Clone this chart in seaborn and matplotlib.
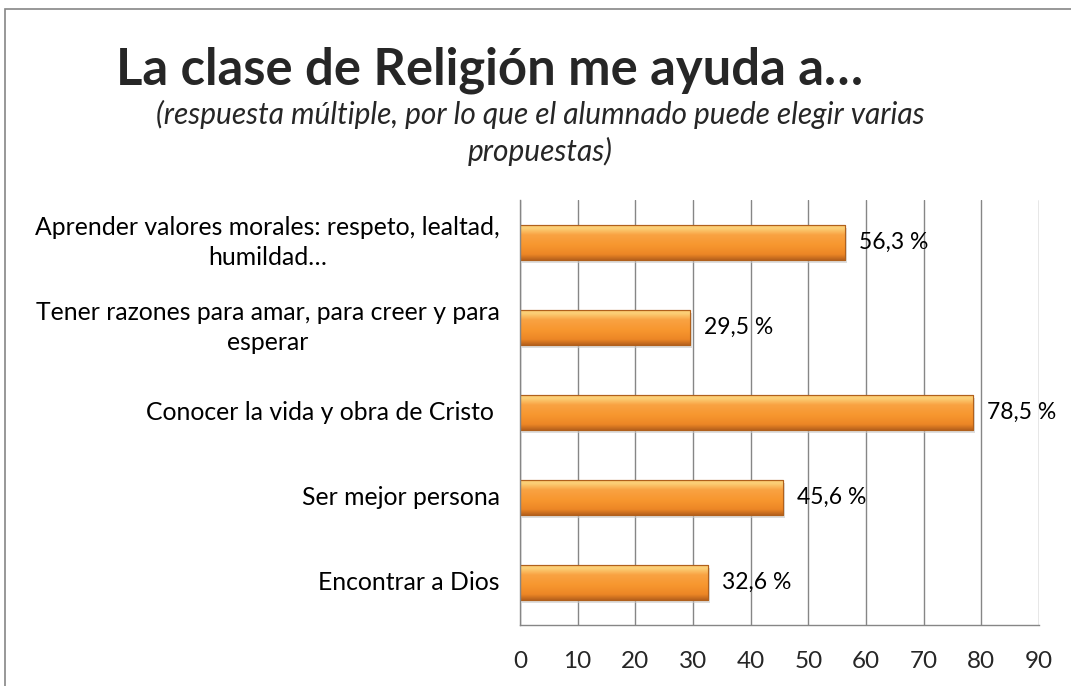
import numpy as np
import pandas as pd
import matplotlib
matplotlib.use("Agg")
import matplotlib.pyplot as plt
import seaborn as sns
from matplotlib.colors import LinearSegmentedColormap
from matplotlib.patches import Rectangle
from matplotlib.transforms import blended_transform_factory

categories = [
    "Aprender valores morales: respeto, lealtad,\nhumildad…",
    "Tener razones para amar, para creer y para\nesperar",
    "Conocer la vida y obra de Cristo ",
    "Ser mejor persona",
    "Encontrar a Dios",
]
values = [56.3, 29.5, 78.5, 45.6, 32.6]
value_labels = ["56,3 %", "29,5 %", "78,5 %", "45,6 %", "32,6 %"]
xticks = [0, 10, 20, 30, 40, 50, 60, 70, 80, 90]

title = "La clase de Religión me ayuda a…"
subtitle = "(respuesta múltiple, por lo que el alumnado puede elegir varias\npropuestas)"

sns.set_theme(style="white")
plt.rcParams['font.family'] = ['Lato', 'DejaVu Sans']

df = pd.DataFrame({"cat": categories, "val": values})

fig = plt.figure(figsize=(10.71, 6.86), dpi=100)
ax = fig.add_axes([520/1071, 1-625/686, (1039-520)/1071, (625-200)/686])

sns.barplot(data=df, y="cat", x="val", orient="h", ax=ax, color="#F7962E",
            width=0.42, edgecolor="#B8621C", linewidth=0.8, zorder=3)

# gradient overlay for bars (top light -> bottom dark)
cmap = LinearSegmentedColormap.from_list(
    "g", [(0.0, "#F4B45A"), (0.1, "#FCD27A"), (0.3, "#F9A242"),
          (0.6, "#F7962E"), (0.85, "#EC8626"), (1.0, "#B8621C")])
grad = np.linspace(0, 1, 64).reshape(-1, 1)
for p in ax.patches:
    x0, y0 = p.get_x(), p.get_y()
    w, h = p.get_width(), p.get_height()
    ax.add_patch(Rectangle((x0 + 0.35, y0 + 0.035), w, h, facecolor="#C8C8C8",
                           edgecolor="none", alpha=0.6, zorder=2.5))
    im = ax.imshow(grad, aspect="auto", cmap=cmap, extent=(x0, x0 + w, y0 + h, y0),
                   origin="upper", zorder=3.5)
    im.set_clip_path(p)
    ax.add_patch(Rectangle((x0, y0), w, h, fill=False, edgecolor="#B0601C", lw=0.8, zorder=4))

ax.set_xlim(0, 90)
ax.set_ylim(4.5, -0.5)
ax.set_xticks(xticks)
ax.set_xticklabels([str(t) for t in xticks], fontsize=17.5)
ax.set_xlabel("")
ax.set_ylabel("")
ax.set_yticks(range(len(categories)))
ax.set_yticklabels([""] * len(categories))
ax.tick_params(axis="y", length=0)
ax.tick_params(axis="x", length=7, color="#868686", width=1, direction="out", pad=12)
ax.set_yticks(np.arange(-0.5, 5.0, 1.0), minor=True)
ax.tick_params(axis="y", which="minor", length=7, color="#868686", width=1, direction="out")

# category labels, centred multi-line, right edge near axis
trans = blended_transform_factory(fig.transFigure, ax.transData)
for i, c in enumerate(categories):
    ax.text(500/1071, i, c, transform=trans, ha="right", va="center",
            multialignment="center", fontsize=17.8, linespacing=1.35, color="black")

ax.grid(axis="x", color="#868686", linewidth=1, zorder=0)
ax.set_axisbelow(True)
for s in ["top", "right"]:
    ax.spines[s].set_visible(False)
for s in ["left", "bottom"]:
    ax.spines[s].set_color("#868686")
    ax.spines[s].set_linewidth(1)
    ax.spines[s].set_zorder(5)

for i, (v, lab) in enumerate(zip(values, value_labels)):
    ax.text(v + 2.4, i, lab, va="center", ha="left", fontsize=16.5, color="black", zorder=6)

fig.text(490/1071, 1 - 70/686, title, ha="center", va="center", fontsize=36.5, fontweight="bold")
fig.text(540/1071, 1 - 133/686, subtitle, ha="center", va="center", fontsize=21.5,
         style="italic", linespacing=1.3)

fig.patches.append(Rectangle((5/1071, -0.01), 1.02, 1 - 9/686 + 0.01, transform=fig.transFigure,
                             fill=False, edgecolor="#868686", linewidth=1.2))

fig.savefig("out.png", dpi=100)
